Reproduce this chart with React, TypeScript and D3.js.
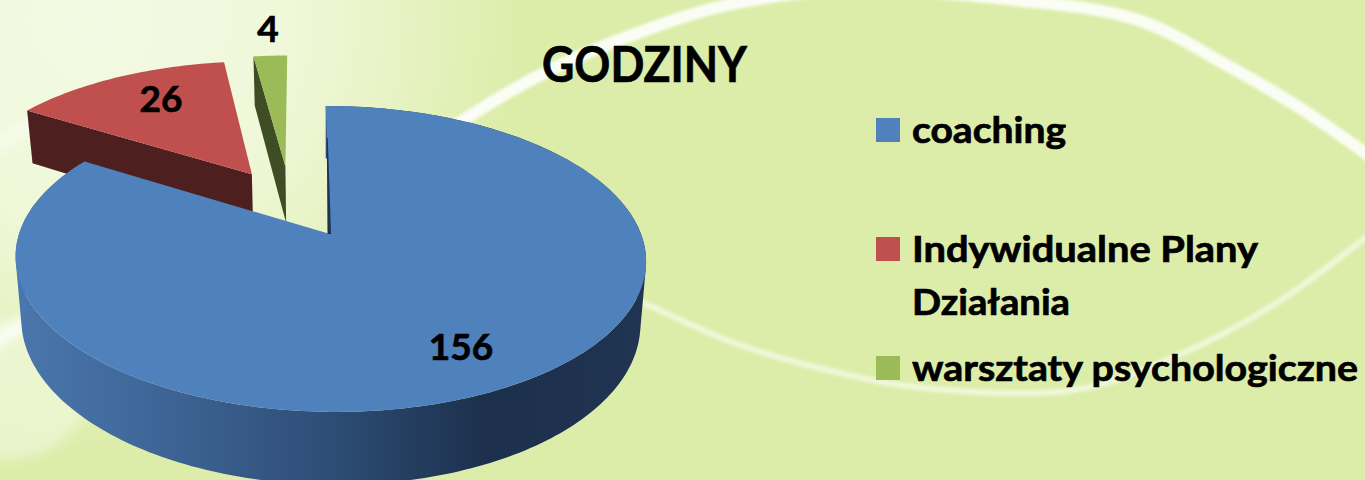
import React from "react";
import * as d3 from "d3";

const categories = ["coaching", "Indywidualne Plany Działania", "warsztaty psychologiczne"];
const hours = [156, 26, 4];
const colors = ["#4f81bd", "#c0504d", "#9bbb59"];
const wallColors = ["#1f3350", "#4d1f1f", "#3e4d23"];
const explode: [number, number][] = [[0, 0], [-0.262, 0.43], [-0.147, 0.49]];
const labelPos: [number, number][] = [[461, 360], [161, 112], [268, 42]];

const legendRows = [
  { swatch: 0, y: 118, lines: [{ t: "coaching", y: 143, w: 154 }] },
  { swatch: 1, y: 237, lines: [{ t: "Indywidualne Plany", y: 262, w: 346 }, { t: "Działania", y: 315, w: 158 }] },
  { swatch: 2, y: 356, lines: [{ t: "warsztaty psychologiczne", y: 381, w: 446 }] },
];

const W = 1365, H = 480;
const CX = 330, CY = 234, R = 311, B = 148.9, K = 0.163, SHEAR = -5, DEPTH = 61;
const FONT = "Lato, Carlito, 'Open Sans', sans-serif";

const arcMain: [number, number][] = [[430, 145], [468, 117], [554, 68], [646, 30], [732, 4], [850, -10], [1015, 0], [1138, 20], [1230, 67], [1300, 108], [1375, 160]];
const arcLow: [number, number][] = [[560, 265], [648, 305], [740, 345], [840, 373], [924, 388], [1074, 390], [1174, 357], [1275, 304], [1375, 230]];
const arcLeftA: [number, number][] = [[-10, 150], [40, 120], [90, 110]];
const arcLeftB: [number, number][] = [[-10, 345], [22, 325], [50, 315]];

function project(u: number, v: number, z = 0): [number, number] {
  const w = 1 + K * v;
  const shrink = 1 - 0.018 * z;
  return [CX + (shrink * R * u + SHEAR * v) / w, CY + (-B * v + DEPTH * z) / w];
}

const pie = d3.pie<number>().sort(null).startAngle(0).endAngle(2 * Math.PI);
const slices = pie(hours);
const line = d3.line();
const smooth = d3.line().curve(d3.curveCatmullRom.alpha(0.5));

function rim(a0: number, a1: number, off: [number, number], z: number): [number, number][] {
  const n = Math.max(2, Math.ceil((a1 - a0) / 0.02));
  return d3.range(n + 1).map((i) => {
    const a = a0 + ((a1 - a0) * i) / n;
    return project(off[0] + Math.sin(a), off[1] + Math.cos(a), z);
  });
}

// the swept side of a rim, as one quad per step so the silhouette stays closed
function sweep(top: [number, number][], bottom: [number, number][]) {
  return d3.range(top.length - 1).map((i) => {
    const q: [number, number][] = [top[i], top[i + 1], bottom[i + 1], bottom[i]];
    if (d3.polygonArea(q) < 0) q.reverse();
    return line(q) + "Z";
  }).join("");
}

function Slice({ i }: { i: number }) {
  const s = slices[i];
  const off = explode[i];
  const apex = project(off[0], off[1], 0);
  const apexB = project(off[0], off[1], 1);
  const top = rim(s.startAngle, s.endAngle, off, 0);
  const bottom = rim(s.startAngle, s.endAngle, off, 1);
  const face = line([apex, ...top])! + "Z";
  const wall = line([top[0], apex, apexB, bottom[0]])! + "Z";
  return (
    <g>
      {i === 0 ? (
        <path d={sweep(top, bottom)} fill="url(#blueSide)" />
      ) : (
        <path d={wall} fill={wallColors[i]} />
      )}
      <path d={face} fill={colors[i]} />
    </g>
  );
}

export default function App() {
  const s0 = project(explode[0][0], explode[0][1] + 0.72, 0);
  const s1 = project(explode[0][0], explode[0][1], 0);
  const sliver = line([s0, [s1[0] - 2.5, s1[1]], [s1[0] + 1, s1[1]], [s0[0] + 1, s0[1]]])! + "Z";
  return (
    <svg width={W} height={H} viewBox={`0 0 ${W} ${H}`} style={{ position: "absolute", left: 0, top: 0, display: "block" }}>
      <defs>
        <radialGradient id="glow" gradientUnits="userSpaceOnUse" cx={90} cy={20} r={430}>
          <stop offset="0" stopColor="#f3fae3" />
          <stop offset="0.45" stopColor="#f0f8da" />
          <stop offset="0.72" stopColor="#e7f3c4" />
          <stop offset="1" stopColor="#dcedaa" />
        </radialGradient>
        <linearGradient id="blueSide" gradientUnits="userSpaceOnUse" x1={16} x2={646} y1={0} y2={0}>
          <stop offset="0" stopColor="#4a77ae" />
          <stop offset="0.25" stopColor="#3d6394" />
          <stop offset="0.5" stopColor="#2d4d75" />
          <stop offset="0.75" stopColor="#1c2f4c" />
          <stop offset="1" stopColor="#203552" />
        </linearGradient>
        <filter id="soft" x="-10%" y="-10%" width="120%" height="120%">
          <feGaussianBlur stdDeviation="1.6" />
        </filter>
        <filter id="softer" x="-30%" y="-80%" width="160%" height="260%">
          <feGaussianBlur stdDeviation="6" />
        </filter>
      </defs>
      <rect width={W} height={H} fill="#dcedaa" />
      <rect width={W} height={H} fill="url(#glow)" />
      <ellipse cx={0} cy={390} rx={90} ry={70} fill="#f0f8da" opacity={0.7} filter="url(#softer)" />
      <g fill="none" stroke="#ffffff" strokeLinecap="round">
        <path d={smooth(arcMain)!} strokeWidth={12} strokeOpacity={0.88} filter="url(#soft)" />
        <path d={smooth(arcLow)!} strokeWidth={6} strokeOpacity={0.55} filter="url(#soft)" />
        <path d={smooth(arcLeftA)!} strokeWidth={10} strokeOpacity={0.55} filter="url(#softer)" />
        <path d={smooth(arcLeftB)!} strokeWidth={12} strokeOpacity={0.9} filter="url(#softer)" />
      </g>

      <Slice i={1} />
      <Slice i={2} />
      <Slice i={0} />
      <path d={sliver} fill={wallColors[0]} />

      <g fontFamily={FONT} fontWeight={700} fill="#000" stroke="#000" strokeWidth={0.7}>
        <text x={542} y={82} fontSize={50} textLength={205} lengthAdjust="spacingAndGlyphs">GODZINY</text>
        {hours.map((h, i) => (
          <text key={i} x={labelPos[i][0]} y={labelPos[i][1]} fontSize={37} textAnchor="middle">{h}</text>
        ))}
        {legendRows.map((r) => (
          <g key={r.swatch}>
            <title>{categories[r.swatch]}</title>
            <rect x={876} y={r.y} width={24} height={24} fill={colors[r.swatch]} stroke="none" />
            {r.lines.map((l) => (
              <text key={l.t} x={912} y={l.y} fontSize={36} textLength={l.w} lengthAdjust="spacingAndGlyphs">{l.t}</text>
            ))}
          </g>
        ))}
      </g>
    </svg>
  );
}
